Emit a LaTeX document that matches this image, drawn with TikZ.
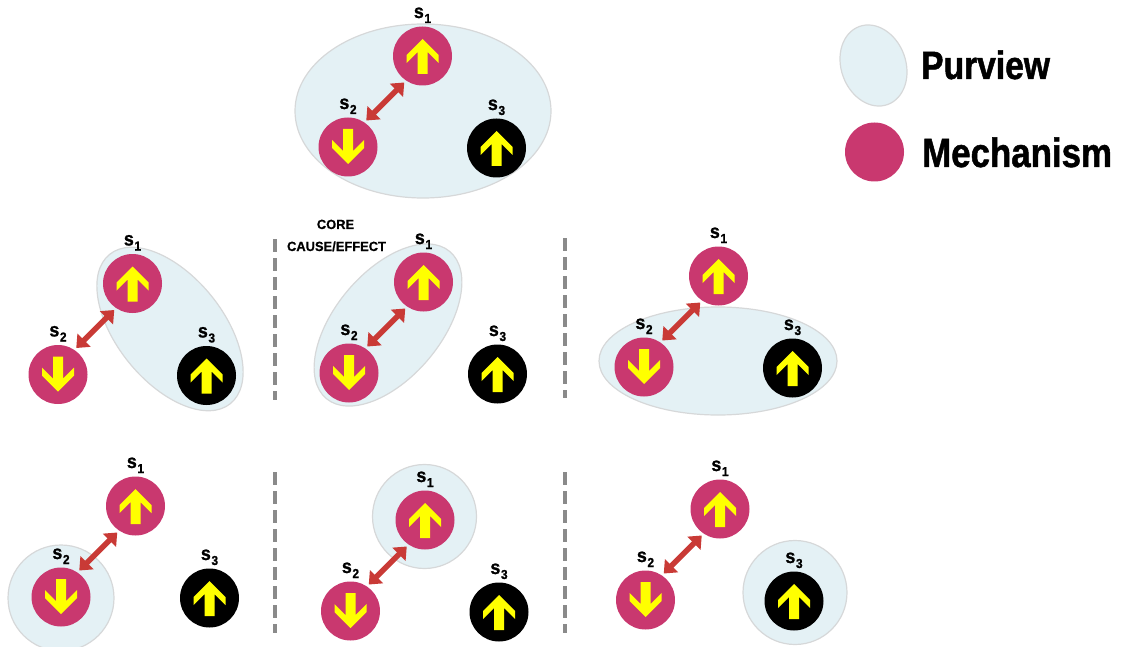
\documentclass[tikz,border=0pt]{standalone}
\usepackage{fontspec}
\setmainfont{Liberation Sans}
\newfontfamily\legendfont{Liberation Sans Bold}[FakeStretch=0.85, FakeBold=1.2]
\newfontfamily\labelfont{Liberation Sans Bold}[FakeStretch=0.92, FakeBold=1]
\newfontfamily\notefont{Liberation Sans Bold}[FakeStretch=0.97, FakeBold=0.6]
\usetikzlibrary{shapes.geometric,arrows.meta,calc}

\definecolor{mechcol}{HTML}{C9386F}
\definecolor{purvfill}{HTML}{E4F1F5}
\definecolor{purvline}{HTML}{D6D8D9}
\definecolor{linkred}{HTML}{C93A36}
\definecolor{sepgray}{HTML}{8A8A8A}
\definecolor{spincol}{HTML}{FFFF00}

\newcommand\subidx[1]{\kern0.6pt\raisebox{-5pt}{\fontsize{13}{13}\selectfont #1}}

\tikzset{
  mech/.style={circle, fill=mechcol, minimum size=59pt, inner sep=0pt},
  other/.style={circle, fill=black, minimum size=59pt, inner sep=0pt},
  purview/.style={draw=purvline, fill=purvfill, line width=1.2pt, inner sep=0pt},
  purvell/.style={purview, ellipse},
  purvcirc/.style={purview, circle},
  lbl/.style={font=\labelfont\fontsize{19.5}{20}\selectfont, anchor=base, inner sep=0pt},
  note/.style={font=\notefont\fontsize{13.3}{14}\selectfont, anchor=base, inner sep=0pt},
  legtext/.style={anchor=base west, inner sep=0pt},
  link/.style={draw=linkred, line width=5.5pt,
    {Triangle[width=18pt,length=11pt]}-{Triangle[width=18pt,length=11pt]}},
  separator/.style={draw=sepgray, line width=4pt, dash pattern=on 13pt off 6pt},
  pics/spinup/.style={code={
    \fill[spincol] (0,-17) -- (16,-1) -- (16,7) -- (5,-4) -- (5,18) -- (-5,18)
      -- (-5,-4) -- (-16,7) -- (-16,-1) -- cycle;}},
  pics/spindown/.style={code={
    \fill[spincol] (0,17) -- (16,1) -- (16,-7) -- (5,4) -- (5,-18) -- (-5,-18)
      -- (-5,4) -- (-16,-7) -- (-16,1) -- cycle;}},
}

% three elements: s1 and s2 (mechanism, coupled), s3 (outside the mechanism)
% #1 = name prefix, (#2,#3) = centre of s2
\newcommand\trio[3]{%
  \node[mech] (#1s2) at (#2,#3) {};
  \node[mech] (#1s1) at ($(#1s2)+(74.5,-91)$) {};
  \node[other] (#1s3) at ($(#1s2)+(148.5,1)$) {};
  \path (#1s1) pic {spinup};
  \path (#1s2) pic {spindown};
  \path (#1s3) pic {spinup};
  \node[lbl] (#1l1) at ($(#1s1)+(0,-38)$) {s\subidx{1}};
  \node[lbl] (#1l2) at ($(#1s2)+(0,-38)$) {s\subidx{2}};
  \node[lbl] (#1l3) at ($(#1s3)+(0,-38)$) {s\subidx{3}};
  \coordinate (#1mid) at ($(#1s1)!0.5!(#1s2)$);
  \draw[link] ($(#1mid)+(-19,19)$) -- ($(#1mid)+(19,-19)$);
}

\begin{document}
\begin{tikzpicture}[x=1pt, y=-1pt]
\useasboundingbox (0,0) rectangle (1121,647);

% purviews
\node[purvell, minimum width=256pt, minimum height=174pt] (pTop) at (423,111) {};
\node[purvell, minimum width=192pt, minimum height=106pt, rotate=-51] (pML) at (170,329) {};
\node[purvell, minimum width=192pt, minimum height=106pt, rotate=50] (pMC) at (388,325) {};
\node[purvell, minimum width=238pt, minimum height=108pt] (pMR) at (718,361) {};
\node[purvcirc, minimum size=106pt] (pBL) at (61,598) {};
\node[purvcirc, minimum size=104pt] (pBC) at (424.5,516.5) {};
\node[purvcirc, minimum size=104pt] (pBR) at (795,592.5) {};

% element groups
\trio{t}{348}{147}
\trio{ml}{58}{374.5}
\trio{mc}{349}{373}
\trio{mr}{644}{367}
\trio{bl}{61}{597}
\trio{bc}{350.5}{611}
\trio{br}{645.5}{600}

% separators
\coordinate (sepA1) at (275,239);  \coordinate (sepA2) at (275,400);
\coordinate (sepB1) at (565,238);  \coordinate (sepB2) at (565,398);
\coordinate (sepC1) at (275,472);  \coordinate (sepC2) at (275,633);
\coordinate (sepD1) at (565,472);  \coordinate (sepD2) at (565,633);
\draw[separator] (sepA1) -- (sepA2);
\draw[separator] (sepB1) -- (sepB2);
\draw[separator] (sepC1) -- (sepC2);
\draw[separator] (sepD1) -- (sepD2);

% core cause/effect note
\node[note] (core1) at (335.5,229) {CORE};
\node[note] (core2) at (336.5,251) {CAUSE/EFFECT};

% legend
\node[purvell, minimum width=64.6pt, minimum height=83pt, rotate=20] (legP) at (873.5,65.5) {};
\node[mech] (legM) at (874.5,152) {};
\node[legtext, font=\legendfont\fontsize{39.5}{40}\selectfont] (legPt) at (921,79) {Purview};
\node[legtext, font=\legendfont\fontsize{41}{42}\selectfont] (legMt) at (922,167) {Mechanism};
\end{tikzpicture}
\end{document}
